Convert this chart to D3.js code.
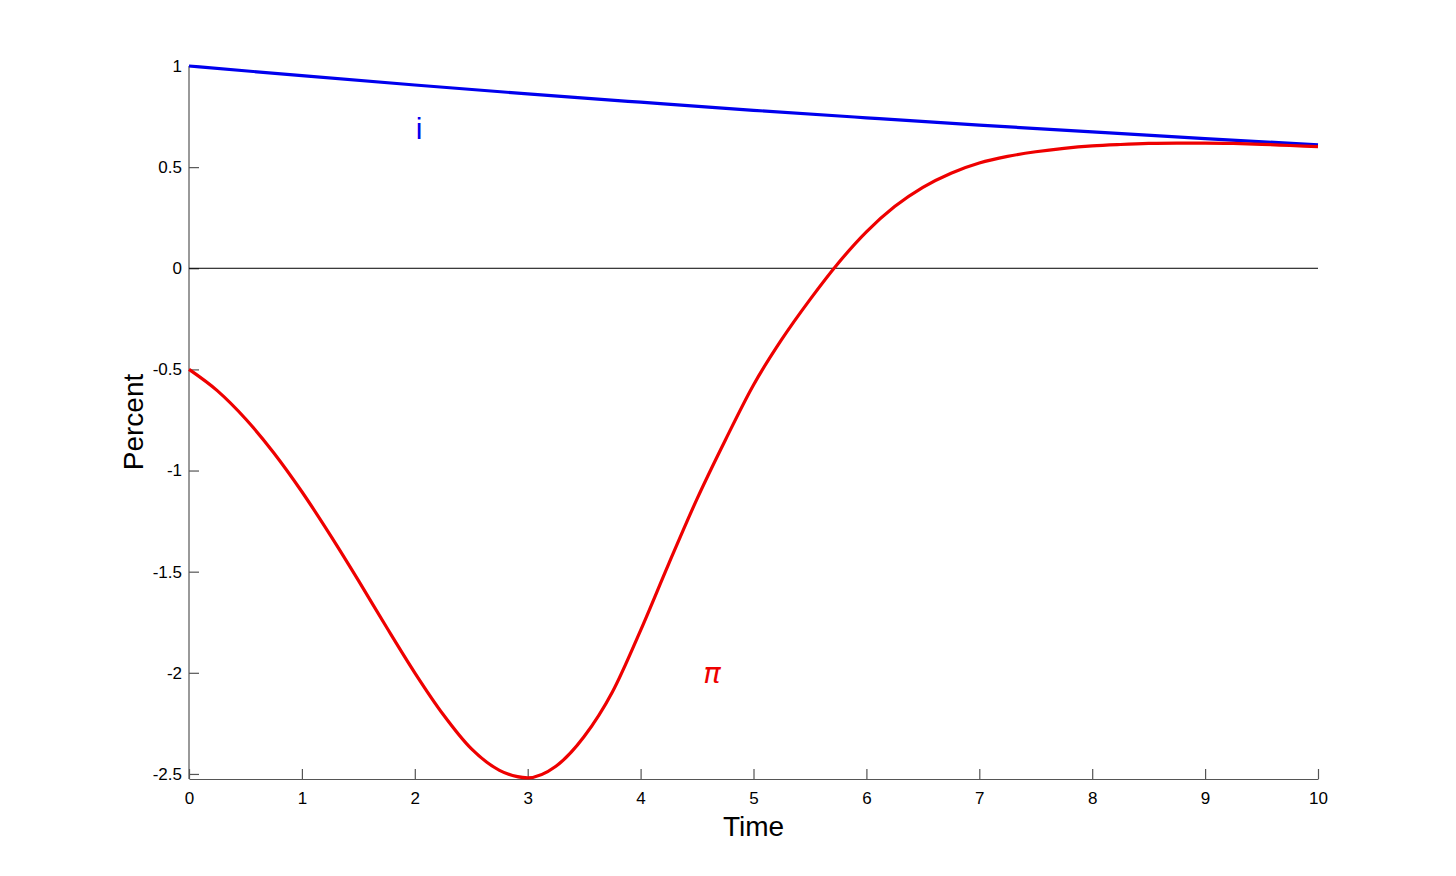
<!DOCTYPE html>
<html>
<head>
<meta charset="utf-8">
<script src="https://cdn.jsdelivr.net/npm/d3@7"></script>
<style>
  body { margin: 0; background: #fff; }
  svg { display: block; font-family: "Liberation Sans", Arial, sans-serif; }
</style>
</head>
<body>
<div id="grafico"></div>
<script>
// datos
const tiempoI = [0, 1, 2, 3, 4, 5, 6, 7, 8, 9, 10];
const valoresI = [1, 0.952, 0.906, 0.862, 0.821, 0.781, 0.744, 0.708, 0.674, 0.641, 0.610];

const tiempoPi = [0, 0.25, 0.5, 0.75, 1, 1.25, 1.5, 1.75, 2, 2.25, 2.5, 2.75, 3, 3.25, 3.5, 3.75, 4, 4.25, 4.5, 4.75,
    5, 5.25, 5.5, 5.75, 6, 6.25, 6.5, 6.75, 7, 7.25, 7.5, 7.75, 8, 8.25, 8.5, 8.75, 9, 9.25, 9.5, 9.75, 10];
const valoresPi = [-0.5, -0.605, -0.744, -0.912, -1.105, -1.318, -1.543, -1.775, -2.0, -2.205, -2.375, -2.482, -2.519,
    -2.462, -2.315, -2.095, -1.79, -1.46, -1.14, -0.85, -0.577, -0.352, -0.155, 0.025, 0.18, 0.305, 0.4, 0.47, 0.52,
    0.553, 0.576, 0.593, 0.605, 0.612, 0.617, 0.619, 0.619, 0.617, 0.613, 0.607, 0.601];

const ticksX = [0, 1, 2, 3, 4, 5, 6, 7, 8, 9, 10];
const ticksY = [-2.5, -2, -1.5, -1, -0.5, 0, 0.5, 1];

const ancho = 1456, alto = 876;
const margen = { izq: 189, der: 1318, arr: 66, aba: 779 };
const colorEje = "#555555";

const svg = d3.select("#grafico").append("svg")
    .attr("width", ancho)
    .attr("height", alto);

const x = d3.scaleLinear().domain([0, 10]).range([margen.izq, margen.der]);
const y = d3.scaleLinear().domain([-2.525, 1]).range([margen.aba, margen.arr]);

const formato = v => String(v); // guion normal, como en el original

// eje x (marcas hacia dentro)
const ejeX = svg.append("g")
    .attr("transform", `translate(0,${margen.aba})`)
    .call(d3.axisBottom(x).tickValues(ticksX).tickSizeInner(-10).tickSizeOuter(0).tickFormat(formato));

// eje y
const ejeY = svg.append("g")
    .attr("transform", `translate(${margen.izq},0)`)
    .call(d3.axisLeft(y).tickValues(ticksY).tickSizeInner(-10).tickSizeOuter(0).tickPadding(7).tickFormat(formato));

[ejeX, ejeY].forEach(eje => {
    eje.select(".domain").attr("stroke", colorEje).attr("stroke-width", 1.2);
    eje.selectAll(".tick line").attr("stroke", colorEje).attr("stroke-width", 1.2);
    eje.selectAll(".tick text")
        .attr("fill", "#000")
        .attr("font-size", 17)
        .attr("font-family", "Liberation Sans, Arial, sans-serif");
});
ejeY.select(".domain").attr("d", `M0,${margen.arr}V${margen.aba}`);
ejeX.selectAll(".tick text").attr("dy", null).attr("y", 25);

// línea del cero
svg.append("line")
    .attr("x1", x(0)).attr("x2", x(10))
    .attr("y1", y(0)).attr("y2", y(0))
    .attr("stroke", "#000")
    .attr("stroke-width", 1);

const linea = d3.line()
    .x(d => x(d[0]))
    .y(d => y(d[1]))
    .curve(d3.curveMonotoneX);

svg.append("path")
    .datum(d3.zip(tiempoI, valoresI))
    .attr("d", linea)
    .attr("fill", "none")
    .attr("stroke", "#0000ee")
    .attr("stroke-width", 3.2);

svg.append("path")
    .datum(d3.zip(tiempoPi, valoresPi))
    .attr("d", linea)
    .attr("fill", "none")
    .attr("stroke", "#ee0000")
    .attr("stroke-width", 3.2);

// etiquetas de las series
svg.append("text")
    .attr("x", 419).attr("y", 139)
    .attr("text-anchor", "middle")
    .attr("fill", "#0000ee")
    .attr("font-size", 30)
    .text("i");

svg.append("text")
    .attr("x", 712).attr("y", 683)
    .attr("text-anchor", "middle")
    .attr("fill", "#ee0000")
    .attr("font-size", 29)
    .attr("font-style", "italic")
    .attr("font-family", "DejaVu Sans, sans-serif")
    .text("π");

// títulos de los ejes
svg.append("text")
    .attr("x", x(5)).attr("y", 836)
    .attr("text-anchor", "middle")
    .attr("font-size", 28)
    .text("Time");

svg.append("text")
    .attr("transform", `translate(143,${422}) rotate(-90)`)
    .attr("text-anchor", "middle")
    .attr("font-size", 28)
    .text("Percent");
</script>
</body>
</html>
